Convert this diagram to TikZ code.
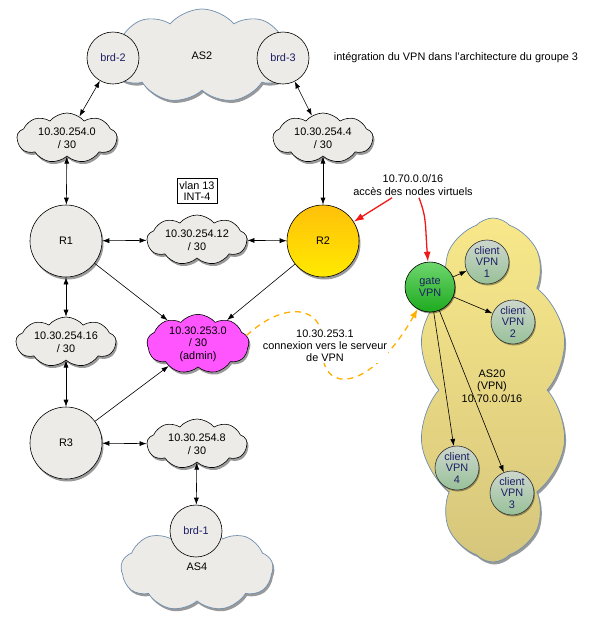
\documentclass[tikz,border=0pt]{standalone}
\usepackage{fontspec}
\setmainfont{Liberation Sans}
\usetikzlibrary{shapes.symbols,shadows,arrows.meta,calc}
\definecolor{cloudgray}{HTML}{ECEBE7}
\definecolor{navy}{HTML}{1E1E66}
\definecolor{asline}{HTML}{6F8FB0}
\definecolor{adminmag}{HTML}{FF55FF}
\definecolor{vpnorange}{HTML}{FFB000}
\definecolor{redarr}{HTML}{F01818}
\begin{document}
\begin{tikzpicture}[x=1pt,y=-1pt,
  font=\fontsize{10.9}{12.5}\selectfont,
  shad/.style={drop shadow={shadow xshift=1.5pt,shadow yshift=-2.5pt,opacity=0.5,fill=black!80}},
  net/.style={cloud, cloud puffs=9, cloud puff arc=100, cloud ignores aspect, draw=black,
    fill=cloudgray, line width=0.6pt, minimum width=100pt, minimum height=50pt,
    align=center, inner sep=0pt, shad},
  ascloud/.style={cloud, cloud puffs=9, cloud puff arc=100, cloud ignores aspect, draw=asline,
    fill=cloudgray, line width=0.7pt, inner sep=0pt, shad},
  router/.style={circle, draw=black, fill=cloudgray, minimum size=72pt, inner sep=0pt,
    line width=0.6pt, shad},
  border/.style={circle, draw=black, fill=cloudgray, minimum size=52pt, inner sep=0pt,
    text=navy, line width=0.6pt},
  client/.style={circle, draw=black!80, top color=green!10!gray!35, bottom color=green!25!gray!65,
    minimum size=44pt, inner sep=0pt, text=navy, align=center, line width=0.6pt,
    font=\fontsize{10.9}{11.8}\selectfont,
    drop shadow={shadow xshift=1pt,shadow yshift=-1.5pt,opacity=0.35,fill=black}},
  dbl/.style={{Latex[length=7pt,width=5pt]}-{Latex[length=7pt,width=5pt]}, line width=0.6pt},
  sgl/.style={-{Latex[length=7pt,width=5pt]}, line width=0.6pt},
  redarrow/.style={-{Latex[length=10pt,width=7pt]}, draw=redarr, line width=1.3pt},
  orangedash/.style={-{Latex[length=9pt,width=7pt]}, draw=vpnorange, line width=1.3pt,
    dash pattern=on 6pt off 5pt}
]
\useasboundingbox (0,0) rectangle (592,625);

% AS2
\node[ascloud, minimum width=186pt, minimum height=94pt] (as2) at (202,56) {AS2};
\node[border] (brd2) at (113,58) {brd-2};
\node[border] (brd3) at (283,58) {brd-3};
\node (title) at (456,58) {intégration du VPN dans l'architecture du groupe 3};

% AS20
\node[cloud, cloud puffs=10, cloud puff arc=95, cloud ignores aspect, draw=asline,
  top color={rgb,255:red,248;green,232;blue,138}, bottom color={rgb,255:red,214;green,198;blue,124},
  line width=0.7pt, minimum width=150pt, minimum height=344pt, inner sep=0pt, shad] (as20) at (493,390) {};
\node[align=center] (as20t) at (492,386) {AS20\\(VPN)\\10.70.0.0/16};

% /30 networks
\node[net] (n0) at (67,138) {10.30.254.0\\/ 30};
\node[net] (n4) at (323,138) {10.30.254.4\\/ 30};
\node[draw, fill=white, align=center, inner sep=2.5pt, line width=0.6pt,
  font=\fontsize{10.9}{11.8}\selectfont] (vlan) at (197,191) {vlan 13\\INT-4};
\node[router] (R1) at (66,241) {R1};
\node[net] (n12) at (197,240) {10.30.254.12\\/ 30};
\node[router, fill=none, top color={rgb,255:red,255;green,192;blue,10},
  bottom color={rgb,255:red,255;green,234;blue,0}] (R2) at (323,241) {R2};
\node[net] (n16) at (66,342) {10.30.254.16\\/ 30};
\node[net, fill=adminmag, minimum height=52pt, minimum width=102pt] (adm) at (198,344) {10.30.253.0\\/ 30\\(admin)};
\node[router] (R3) at (66,443) {R3};
\node[net] (n8) at (197,444) {10.30.254.8\\/ 30};

% AS4
\node[ascloud, minimum width=152pt, minimum height=84pt] (as4) at (197,569) {};
\node[border] (brd1) at (196,531) {brd-1};
\node (as4t) at (197,567) {AS4};

% VPN
\node[circle, draw=black, top color={rgb,255:red,110;green,214;blue,110},
  bottom color={rgb,255:red,30;green,170;blue,30}, minimum size=50pt, inner sep=0pt,
  text=navy, align=center, line width=0.6pt, font=\fontsize{10.9}{11.8}\selectfont,
  drop shadow={shadow xshift=1pt,shadow yshift=-1.5pt,opacity=0.4,fill=black}] (gate) at (430,287) {gate\\VPN};
\node[client] (c1) at (487,262) {client\\VPN\\1};
\node[client] (c2) at (513,322) {client\\VPN\\2};
\node[client] (c4) at (457,468) {client\\VPN\\4};
\node[client] (c3) at (512,493) {client\\VPN\\3};

\node[align=center] (lbl) at (413,185) {10.70.0.0/16\\accès des nodes virtuels};

% connectors
\draw[dbl] (n0) -- (brd2);
\draw[dbl] (n4) -- (brd3);
\draw[dbl] (n0) -- (R1);
\draw[dbl] (n4) -- (R2);
\draw[dbl] (R1) -- (n12);
\draw[dbl] (n12) -- (R2);
\draw[sgl] (R1) -- (adm);
\draw[sgl] (R2) -- (adm);
\draw[dbl] (R1) -- (n16);
\draw[dbl] (n16) -- (R3);
\draw[sgl] (R3) -- (adm);
\draw[dbl] (R3) -- (n8);
\draw[dbl] (n8) -- (brd1);
\draw[sgl] (gate) -- (c1);
\draw[sgl] (gate) -- (c2);
\draw[sgl] (gate) -- (c4);
\draw[sgl] (gate) -- (c3);

\draw[redarrow] ($(lbl.south)+(-21,-1)$) -- (R2);
\draw[redarrow] ($(lbl.south)+(6,-1)$) .. controls ($(lbl.south)+(14,20)$) and (425,225) .. (gate);

\draw[orangedash] (adm.10) .. controls (285,300) and (325,305) .. (322,345)
  .. controls (320,398) and (372,390) .. (gate);
\node[align=center, fill=white, inner sep=1pt, font=\fontsize{10.9}{12}\selectfont] (olbl) at (325,346) {10.30.253.1\\connexion vers le serveur\\de VPN};
\end{tikzpicture}
\end{document}
